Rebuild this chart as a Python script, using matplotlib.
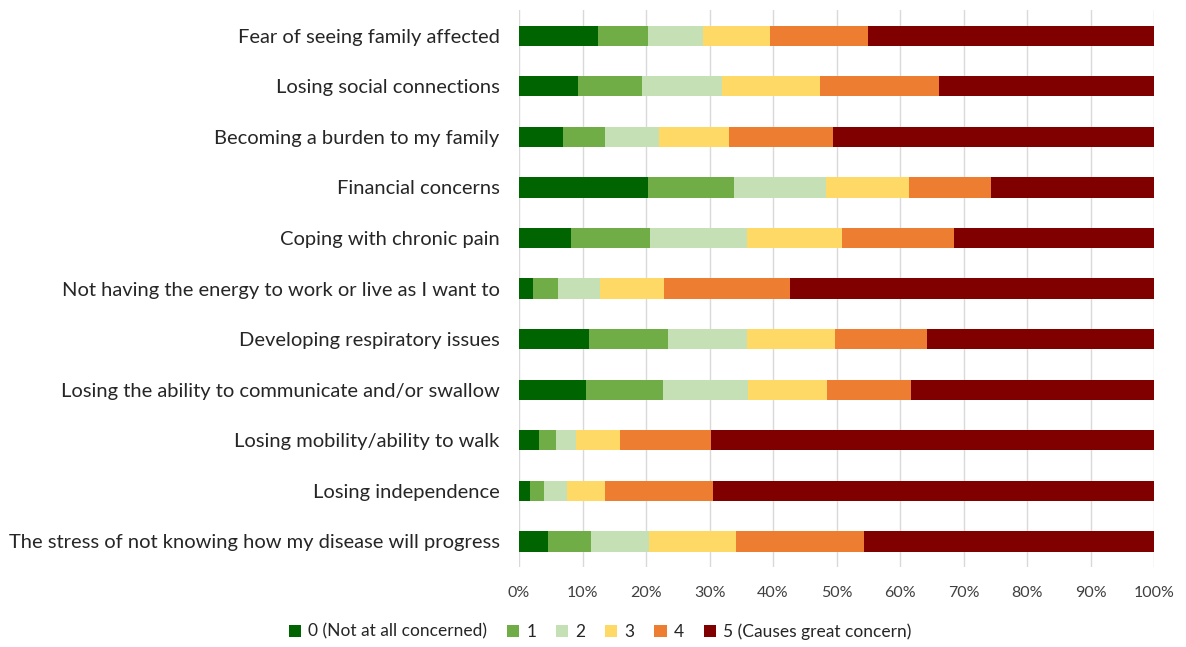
import numpy as np
import matplotlib
matplotlib.use("Agg")
from matplotlib import pyplot as plt

plt.rcParams['font.family'] = ['Lato', 'DejaVu Sans']

categories = [
    "Fear of seeing family affected",
    "Losing social connections",
    "Becoming a burden to my family",
    "Financial concerns",
    "Coping with chronic pain",
    "Not having the energy to work or live as I want to",
    "Developing respiratory issues",
    "Losing the ability to communicate and/or swallow",
    "Losing mobility/ability to walk",
    "Losing independence",
    "The stress of not knowing how my disease will progress",
]

# share of responses (%) per concern level, same order as categories
level0 = [12.4, 9.3, 6.9, 20.3, 8.2, 2.2, 11.0, 10.6, 3.2, 1.7, 4.6]
level1 = [7.9, 10.1, 6.7, 13.5, 12.5, 3.9, 12.5, 12.0, 2.6, 2.2, 6.8]
level2 = [8.6, 12.5, 8.4, 14.5, 15.2, 6.7, 12.4, 13.5, 3.2, 3.7, 9.1]
level3 = [10.6, 15.5, 11.0, 13.1, 15.0, 10.1, 13.9, 12.4, 6.9, 6.0, 13.6]
level4 = [15.5, 18.7, 16.4, 12.9, 17.6, 19.7, 14.4, 13.3, 14.4, 16.9, 20.2]
level5 = [45.0, 33.9, 50.6, 25.7, 31.5, 57.4, 35.8, 38.2, 69.7, 69.5, 45.7]

levels = [level0, level1, level2, level3, level4, level5]
level_names = ["0 (Not at all concerned)", "1", "2", "3", "4", "5 (Causes great concern)"]
colors = ["#006400", "#70AD47", "#C5E0B4", "#FFD966", "#ED7D31", "#800000"]

fig = plt.figure(figsize=(11.86, 6.47), dpi=100)
ax = fig.add_axes([0.4376, 0.124, 0.5355, 0.86])

y = np.arange(len(categories))
left = np.zeros(len(categories))
for vals, name, col in zip(levels, level_names, colors):
    vals = np.array(vals)
    ax.barh(y, vals, left=left, height=0.4, color=col, label=name, zorder=3)
    left += vals

ax.set_yticks(y)
ax.set_yticklabels(categories, fontsize=14.5, color="#262626")
ax.set_ylim(len(categories) - 0.5, -0.5)
ax.set_xlim(0, 100)
ax.set_xticks(np.arange(0, 101, 10))
ax.set_xticklabels(["%d%%" % v for v in range(0, 101, 10)], fontsize=11.5, color="#404040")
ax.tick_params(axis="both", length=0)
ax.tick_params(axis="x", pad=14)
ax.tick_params(axis="y", pad=14)
ax.grid(axis="x", color="#D9D9D9", linewidth=1, zorder=0)
for s in ax.spines.values():
    s.set_visible(False)

handles, labels = ax.get_legend_handles_labels()
fig.legend(handles, labels, loc="center", bbox_to_anchor=(0.506, 0.024), ncol=6,
           frameon=False, fontsize=12.5, handlelength=0.7, handleheight=0.7,
           handletextpad=0.4, columnspacing=1.15, labelcolor="#262626")

fig.savefig("out.png", dpi=100)
